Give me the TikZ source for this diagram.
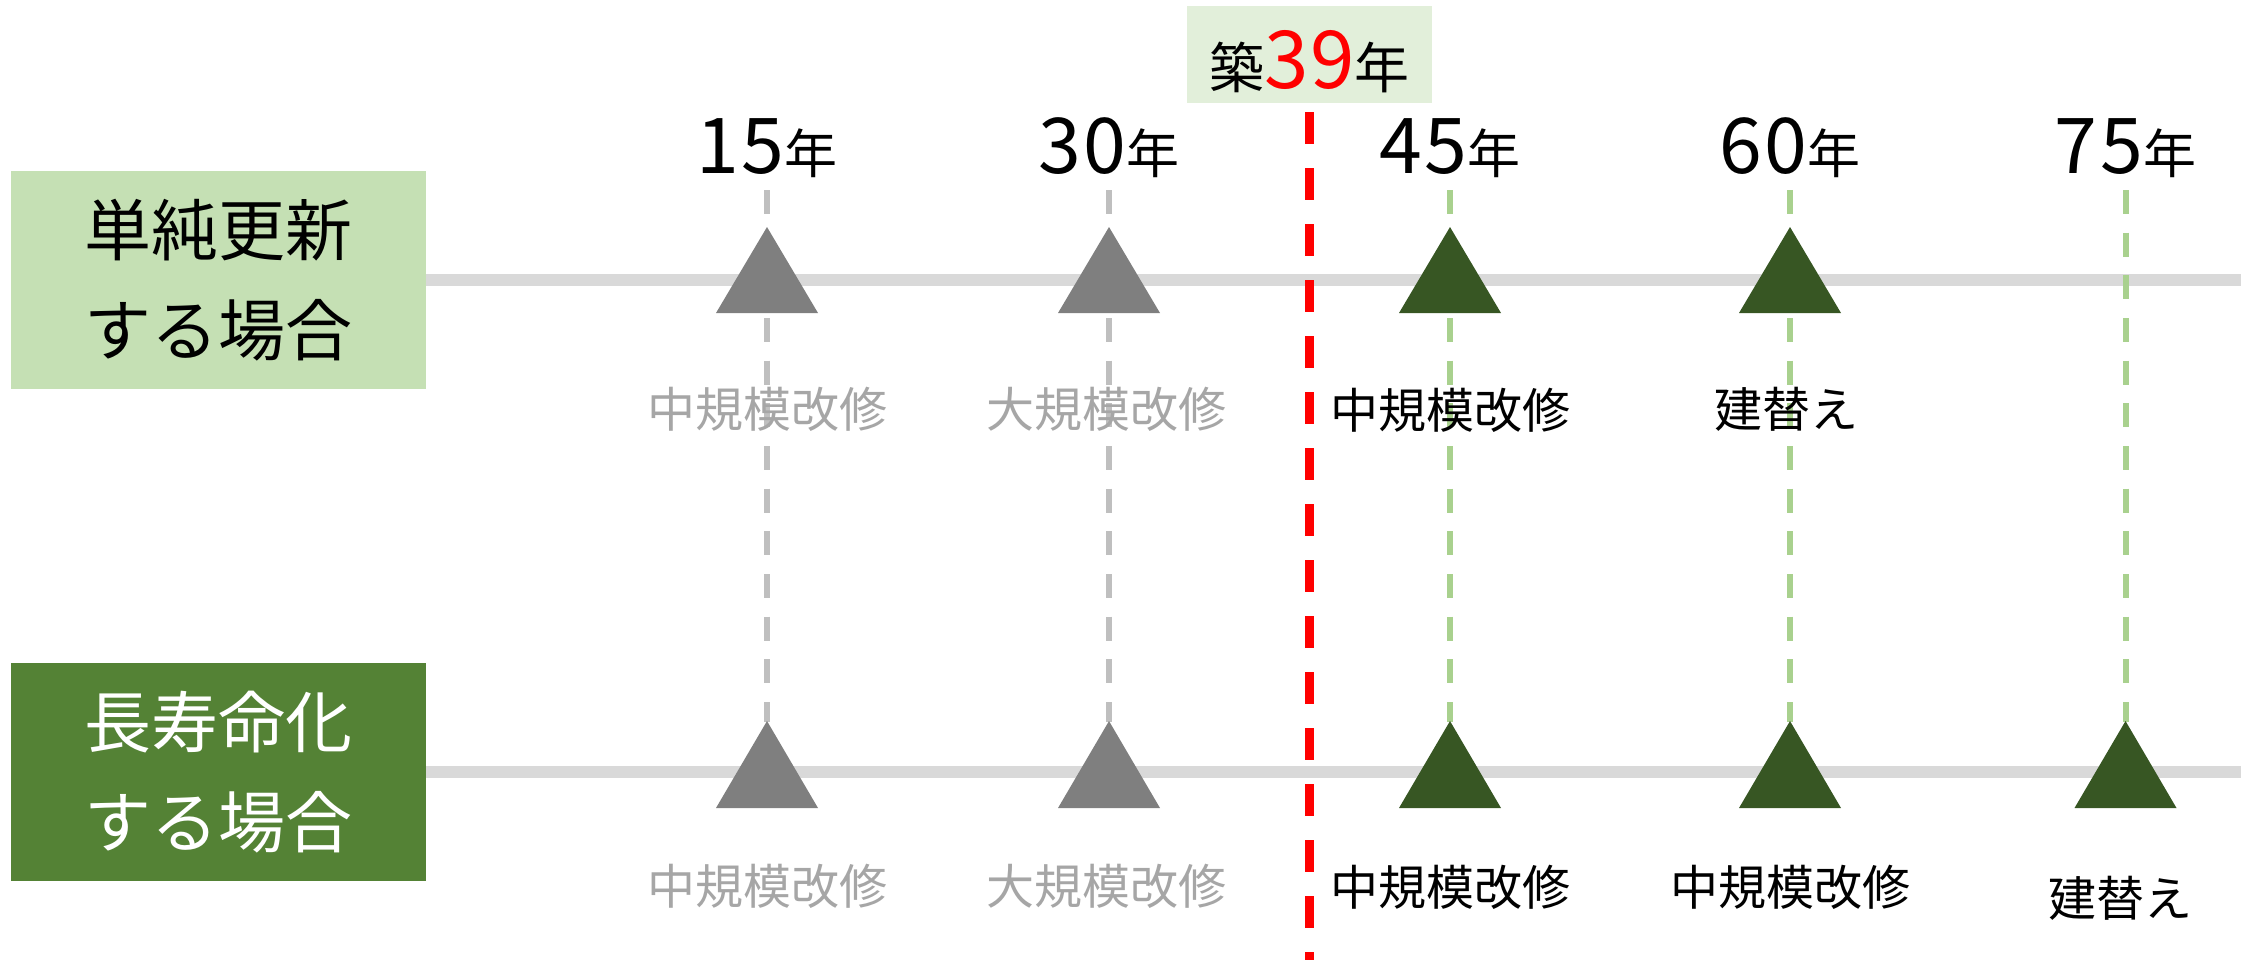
\documentclass[tikz,border=0pt]{standalone}
\usepackage{fontspec}
\setmainfont{Noto Sans CJK JP}
\definecolor{boxlight}{HTML}{C5E0B4}
\definecolor{boxdark}{HTML}{548235}
\definecolor{tagbg}{HTML}{E2EFDA}
\definecolor{trigray}{HTML}{7F7F7F}
\definecolor{trigreen}{HTML}{375623}
\definecolor{labgray}{HTML}{A6A6A6}
\definecolor{dashgray}{HTML}{BFBFBF}
\definecolor{dashgreen}{HTML}{A9D18E}
\definecolor{linegray}{HTML}{D9D9D9}
\definecolor{redline}{HTML}{FF0000}
\tikzset{
  rowbox/.style={inner sep=0pt, minimum width=415pt, minimum height=218pt, align=center,
    font=\fontsize{67}{100}\selectfont},
  timeline/.style={linegray, line width=12pt},
  coldash/.style={line width=6pt, dash pattern=on 24pt off 18.67pt},
  nowline/.style={redline, line width=9pt, dash pattern=on 32pt off 24pt},
  yearlab/.style={anchor=base, inner sep=0pt},
  evlab/.style={inner sep=0pt, font=\fontsize{48}{48}\selectfont},
}
\newcommand{\yr}[2]{{\fontsize{77}{77}\selectfont #1\kern3pt #2}{\fontsize{53}{53}\selectfont 年}}
\begin{document}
\begin{tikzpicture}[x=1pt,y=-1pt]
\useasboundingbox (0,0) rectangle (2257,959);
% row boxes
\node[rowbox, fill=boxlight] (rowA) at (218.5,280) {単純更新\\する場合};
\node[rowbox, fill=boxdark, text=white] (rowB) at (218.5,772) {長寿命化\\する場合};
% timelines
\coordinate (endA) at (2241,280);
\coordinate (endB) at (2241,772);
\draw[timeline] (rowA.east) -- (endA);
\draw[timeline] (rowB.east) -- (endB);
% column dashes
\foreach \n/\x/\c in {15/767/dashgray, 30/1109/dashgray, 45/1450/dashgreen, 60/1790/dashgreen, 75/2125.5/dashgreen}{
  \coordinate (top\n) at (\x,190);
  \coordinate (bot\n) at (\x,722);
  \draw[coldash, \c] (top\n) -- (bot\n);
}
% triangles upper row
\foreach \x/\c in {767/trigray, 1109/trigray, 1450/trigreen, 1790/trigreen}{
  \fill[\c] (\x-51,313) -- (\x,227) -- (\x+51,313) -- cycle;
}
% triangles lower row
\foreach \x/\c in {767/trigray, 1109/trigray, 1450/trigreen, 1790/trigreen, 2125.5/trigreen}{
  \fill[\c] (\x-51,808) -- (\x,721) -- (\x+51,808) -- cycle;
}
% red now line
\coordinate (nowtop) at (1309.5,112);
\coordinate (nowbot) at (1309.5,962);
\draw[nowline] (nowtop) -- (nowbot);
% tag
\node[fill=tagbg, inner sep=0pt, minimum width=245pt, minimum height=97pt] (tag) at (1309.5,54.5) {};
\node[anchor=base, inner sep=0pt] (tagtxt) at (1309.5,88) {{\fontsize{55}{55}\selectfont 築}{\fontsize{80}{80}\selectfont\color{redline}3\kern2pt 9}{\fontsize{55}{55}\selectfont 年}};
% year labels
\node[yearlab] (y15) at (767,173) {\yr{1}{5}};
\node[yearlab] (y30) at (1109,173) {\yr{3}{0}};
\node[yearlab] (y45) at (1450,173) {\yr{4}{5}};
\node[yearlab] (y60) at (1790,173) {\yr{6}{0}};
\node[yearlab] (y75) at (2125.5,173) {\yr{7}{5}};
% upper event labels
\node[evlab, text=labgray] (a15) at (767,409) {中規模改修};
\node[evlab, text=labgray] (a30) at (1106,409) {大規模改修};
\node[evlab] (a45) at (1450,410) {中規模改修};
\node[evlab] (a60) at (1786,409) {建替え};
% lower event labels
\node[evlab, text=labgray] (b15) at (767,886) {中規模改修};
\node[evlab, text=labgray] (b30) at (1106,886) {大規模改修};
\node[evlab] (b45) at (1450,887) {中規模改修};
\node[evlab] (b60) at (1790,887) {中規模改修};
\node[evlab] (b75) at (2120,898) {建替え};
\end{tikzpicture}
\end{document}
